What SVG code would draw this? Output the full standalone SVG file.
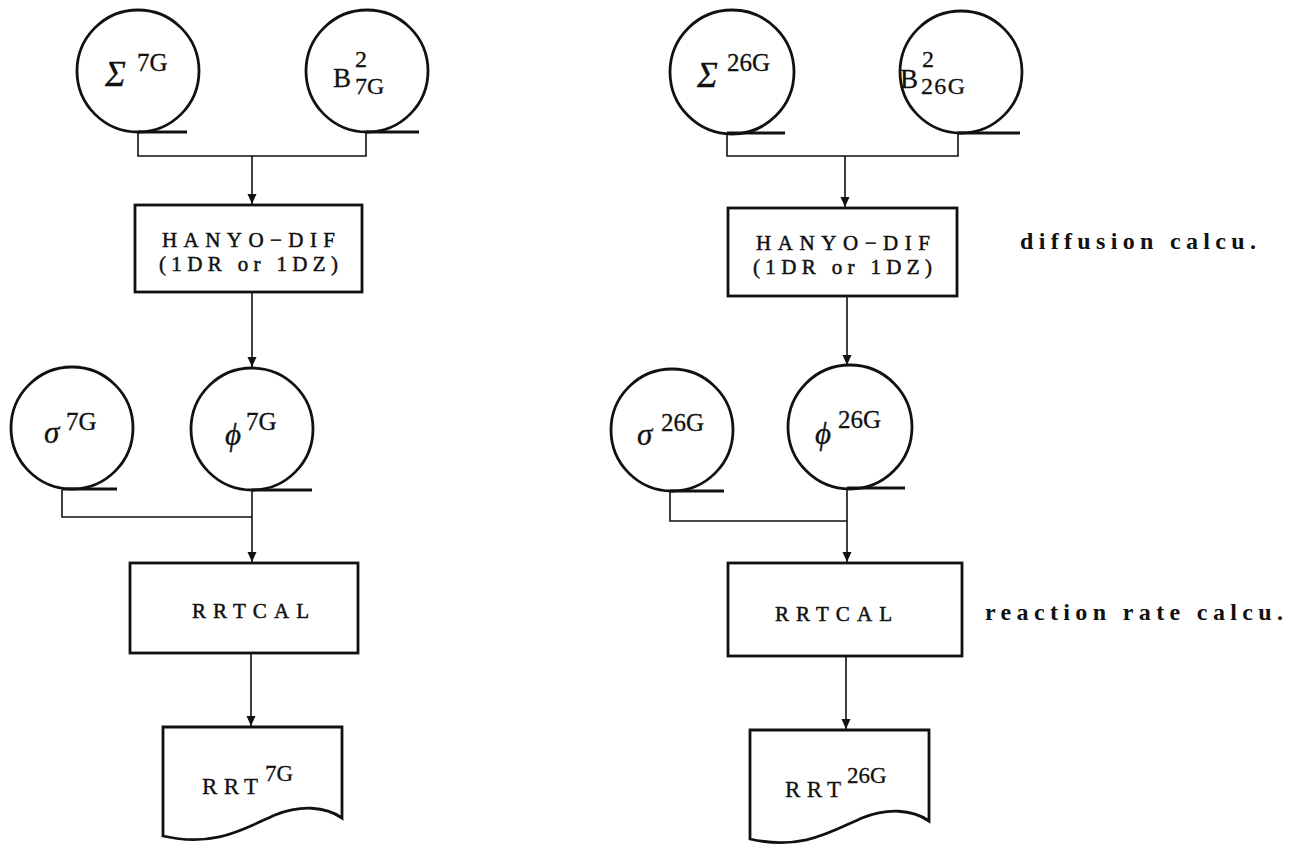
<svg xmlns="http://www.w3.org/2000/svg" width="1291" height="846" viewBox="0 0 1291 846">
<defs>
<marker id="arr" markerUnits="userSpaceOnUse" markerWidth="10" markerHeight="14" refX="10" refY="5" orient="auto" viewBox="0 0 10 10">
<path d="M0,0.5 L10,5 L0,9.5 z" fill="#111"/>
</marker>
</defs>
<style>
.sh{fill:#fff;stroke:#111;stroke-width:2.8}
.tail{stroke:#111;stroke-width:2.8;fill:none}
.cn{stroke:#111;stroke-width:1.6;fill:none}
.t{font-family:"Liberation Serif","DejaVu Serif",serif;fill:#111;stroke:#111;stroke-width:0.3}
.m{font-family:"Liberation Serif","DejaVu Serif",serif;fill:#111;font-style:italic;stroke:#111;stroke-width:0.3}
.lab{font-family:"Liberation Serif","DejaVu Serif",serif;fill:#111;font-size:24px;font-weight:bold}
.box{font-family:"Liberation Serif","DejaVu Serif",serif;fill:#111;font-size:21px;stroke:#111;stroke-width:0.5}
</style>
<rect width="1291" height="846" fill="#fff"/>

<g id="connectors">
<path class="cn" d="M138,133 V156 H366 V133"/>
<path class="cn" d="M252,156 V204" marker-end="url(#arr)"/>
<path class="cn" d="M252,292 V367" marker-end="url(#arr)"/>
<path class="cn" d="M62,490 V517 H252"/>
<path class="cn" d="M252,490 V562" marker-end="url(#arr)"/>
<path class="cn" d="M251,654 V726" marker-end="url(#arr)"/>

<path class="cn" d="M727,134 V156 H958 V134"/>
<path class="cn" d="M845,156 V207" marker-end="url(#arr)"/>
<path class="cn" d="M847,296 V365" marker-end="url(#arr)"/>
<path class="cn" d="M670,492 V521 H847"/>
<path class="cn" d="M847,489 V562" marker-end="url(#arr)"/>
<path class="cn" d="M846,657 V729" marker-end="url(#arr)"/>
</g>

<!-- Left column -->
<g id="sigma7G">
<circle class="sh" cx="138" cy="71" r="61"/>
<path class="tail" d="M138,132 H187"/>
<text class="m" x="105" y="86" font-size="35">Σ</text>
<text class="t" x="137" y="71" font-size="25">7G</text>
</g>
<g id="b7G">
<circle class="sh" cx="367" cy="71" r="61"/>
<path class="tail" d="M366,132 H419"/>
<text class="t" x="333" y="87" font-size="27">B</text>
<text class="t" x="355" y="67" font-size="24">2</text>
<text class="t" x="355" y="94" font-size="24">7G</text>
</g>
<g id="hanyo7G">
<rect class="sh" x="135" y="205" width="227" height="87"/>
<text class="box" x="162" y="247" textLength="173" lengthAdjust="spacing">HANYO−DIF</text>
<text class="box" x="159" y="271" textLength="179" lengthAdjust="spacing">(1DR or 1DZ)</text>
</g>
<g id="sig7G">
<circle class="sh" cx="72" cy="428" r="61"/>
<path class="tail" d="M62,489 H117"/>
<text class="m" x="44" y="443" font-size="31">σ</text>
<text class="t" x="66" y="430" font-size="25">7G</text>
</g>
<g id="phi7G">
<circle class="sh" cx="252" cy="429" r="61"/>
<path class="tail" d="M252,490 H312"/>
<text class="m" x="225" y="445" font-size="31">ϕ</text>
<text class="t" x="246" y="430" font-size="25">7G</text>
</g>
<g id="rrtcal7G">
<rect class="sh" x="130" y="563" width="228" height="90"/>
<text class="box" x="192" y="618" font-size="22" textLength="117" lengthAdjust="spacing">RRTCAL</text>
</g>
<g id="rrt7G">
<path class="sh" d="M163,727 H342 V818 C325,806 300,805 275,815 C245,828 215,848 163,836 Z"/>
<text class="t" x="202" y="794" font-size="23" textLength="56" lengthAdjust="spacing">RRT</text>
<text class="t" x="265" y="781" font-size="23">7G</text>
</g>

<!-- Right column -->
<g id="sigma26G">
<circle class="sh" cx="732" cy="72" r="62"/>
<path class="tail" d="M727,133 H785"/>
<text class="m" x="697" y="87" font-size="35">Σ</text>
<text class="t" x="727" y="71" font-size="25">26G</text>
</g>
<g id="b26G">
<circle class="sh" cx="961" cy="72" r="61"/>
<path class="tail" d="M958,133 H1020"/>
<text class="t" x="900" y="88" font-size="27">B</text>
<text class="t" x="922" y="67" font-size="24">2</text>
<text class="t" x="921" y="94" font-size="24" textLength="44" lengthAdjust="spacing">26G</text>
</g>
<g id="hanyo26G">
<rect class="sh" x="728" y="208" width="229" height="88"/>
<text class="box" x="756" y="250" textLength="174" lengthAdjust="spacing">HANYO−DIF</text>
<text class="box" x="753" y="274" textLength="179" lengthAdjust="spacing">(1DR or 1DZ)</text>
</g>
<text class="lab" x="1020" y="249" textLength="236" lengthAdjust="spacing">diffusion calcu.</text>
<g id="sig26G">
<circle class="sh" cx="672" cy="430" r="61"/>
<path class="tail" d="M670,491 H724"/>
<text class="m" x="637" y="445" font-size="31">σ</text>
<text class="t" x="661" y="431" font-size="25">26G</text>
</g>
<g id="phi26G">
<circle class="sh" cx="850" cy="427" r="62"/>
<path class="tail" d="M847,488 H905"/>
<text class="m" x="815" y="444" font-size="31">ϕ</text>
<text class="t" x="838" y="428" font-size="25">26G</text>
</g>
<g id="rrtcal26G">
<rect class="sh" x="728" y="563" width="234" height="93"/>
<text class="box" x="775" y="621" font-size="22" textLength="117" lengthAdjust="spacing">RRTCAL</text>
</g>
<text class="lab" x="985" y="620" textLength="298" lengthAdjust="spacing">reaction rate calcu.</text>
<g id="rrt26G">
<path class="sh" d="M750,730 H929 V821 C912,809 887,808 862,818 C832,831 802,851 750,839 Z"/>
<text class="t" x="785" y="797" font-size="23" textLength="56" lengthAdjust="spacing">RRT</text>
<text class="t" x="847" y="783" font-size="23">26G</text>
</g>
</svg>
